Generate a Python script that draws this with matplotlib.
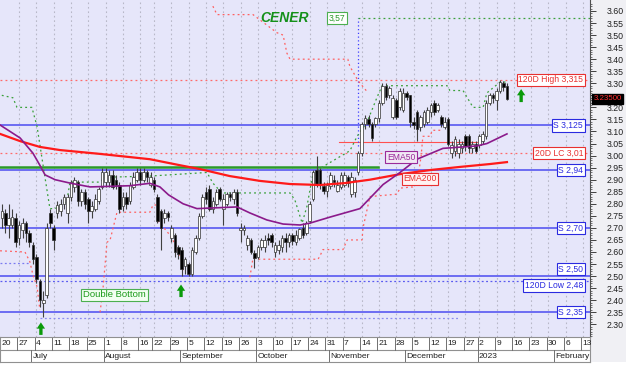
import numpy as np
import pandas as pd
import matplotlib
matplotlib.use("Agg")
import matplotlib.pyplot as plt
from matplotlib.patches import Rectangle
import matplotlib.transforms as mtrans

plt.rcParams['font.family'] = ['Liberation Sans', 'DejaVu Sans']

# trading calendar (BME, Aug 15 and Dec 26 closed)
days = pd.bdate_range("2022-06-20", "2023-02-17")
days = days[~days.isin(pd.to_datetime(["2022-08-15", "2022-12-26"]))]

# daily candles, 2022-06-20 .. 2023-01-12
opens = [2.74, 2.76, 2.71, 2.71, 2.74, 2.66, 2.69, 2.72, 2.68, 2.63,
         2.58, 2.48, 2.39, 2.42, 2.76, 2.70, 2.76, 2.77, 2.80, 2.76,
         2.83, 2.87, 2.89, 2.81, 2.85, 2.82, 2.77, 2.78, 2.81, 2.87,
         2.89, 2.89, 2.92, 2.90, 2.88, 2.79, 2.83, 2.81, 2.87, 2.90,
         2.93, 2.90, 2.93, 2.88, 2.90, 2.83, 2.77, 2.74, 2.76, 2.66,
         2.67, 2.62, 2.61, 2.54, 2.55, 2.51, 2.60, 2.66, 2.75, 2.85,
         2.86, 2.78, 2.80, 2.86, 2.78, 2.80, 2.84, 2.82, 2.85, 2.69,
         2.69, 2.63, 2.65, 2.595, 2.58, 2.62, 2.62, 2.66, 2.67, 2.60,
         2.61, 2.62, 2.66, 2.64, 2.67, 2.64, 2.66, 2.70, 2.68, 2.73,
         2.82, 2.94, 2.94, 2.875, 2.855, 2.875, 2.90, 2.855, 2.87, 2.88,
         2.91, 2.84, 2.85, 2.93, 3.01, 3.13, 3.15, 3.13, 3.13, 3.155,
         3.22, 3.29, 3.25, 3.16, 3.23, 3.20, 3.19, 3.26, 3.25, 3.14,
         3.18, 3.12, 3.13, 3.14, 3.18, 3.22, 3.19, 3.16, 3.12, 3.15,
         3.01, 3.02, 3.01, 3.03, 3.08, 3.08, 3.03, 3.05, 3.045, 3.06,
         3.08, 3.22, 3.25, 3.23, 3.27, 3.30, 3.29]
closes = [2.77, 2.71, 2.74, 2.745, 2.64, 2.71, 2.72, 2.68, 2.64, 2.57,
          2.49, 2.40, 2.40, 2.70, 2.72, 2.65, 2.795, 2.80, 2.83, 2.83,
          2.89, 2.90, 2.81, 2.85, 2.80, 2.77, 2.79, 2.82, 2.86, 2.93,
          2.93, 2.92, 2.87, 2.88, 2.78, 2.83, 2.80, 2.88, 2.91, 2.93,
          2.90, 2.93, 2.91, 2.91, 2.86, 2.73, 2.70, 2.76, 2.745, 2.70,
          2.60, 2.59, 2.53, 2.57, 2.51, 2.61, 2.66, 2.75, 2.83, 2.82,
          2.78, 2.81, 2.85, 2.82, 2.82, 2.84, 2.83, 2.85, 2.76, 2.70,
          2.70, 2.66, 2.60, 2.575, 2.62, 2.65, 2.65, 2.65, 2.64, 2.63,
          2.63, 2.66, 2.64, 2.67, 2.645, 2.67, 2.695, 2.67, 2.72, 2.80,
          2.93, 2.88, 2.88, 2.855, 2.88, 2.92, 2.89, 2.88, 2.92, 2.92,
          2.885, 2.91, 2.90, 3.01, 3.13, 3.155, 3.13, 3.075, 3.155, 3.22,
          3.29, 3.245, 3.28, 3.24, 3.16, 3.27, 3.26, 3.245, 3.14, 3.125,
          3.11, 3.16, 3.18, 3.19, 3.21, 3.18, 3.21, 3.13, 3.14, 3.05,
          3.045, 3.07, 3.05, 3.05, 3.04, 3.03, 3.05, 3.02, 3.08, 3.09,
          3.22, 3.25, 3.24, 3.27, 3.305, 3.285, 3.235]
highs = [2.80, 2.78, 2.80, 2.78, 2.76, 2.73, 2.74, 2.73, 2.69, 2.64,
         2.59, 2.49, 2.44, 2.72, 2.78, 2.71, 2.81, 2.82, 2.84, 2.84,
         2.90, 2.91, 2.90, 2.86, 2.86, 2.83, 2.81, 2.84, 2.87, 2.95,
         2.95, 2.94, 2.94, 2.92, 2.89, 2.85, 2.85, 2.89, 2.93, 2.95,
         2.95, 2.95, 2.94, 2.93, 2.91, 2.84, 2.78, 2.78, 2.77, 2.71,
         2.68, 2.63, 2.62, 2.58, 2.56, 2.62, 2.67, 2.76, 2.84, 2.87,
         2.88, 2.83, 2.86, 2.87, 2.84, 2.85, 2.85, 2.86, 2.86, 2.72,
         2.71, 2.67, 2.66, 2.61, 2.63, 2.66, 2.67, 2.68, 2.68, 2.64,
         2.65, 2.67, 2.68, 2.68, 2.68, 2.69, 2.70, 2.72, 2.73, 2.81,
         2.94, 3.00, 2.95, 2.89, 2.89, 2.93, 2.92, 2.90, 2.93, 2.93,
         2.92, 2.93, 2.91, 3.02, 3.14, 3.17, 3.17, 3.14, 3.16, 3.23,
         3.30, 3.30, 3.29, 3.25, 3.24, 3.28, 3.28, 3.27, 3.25, 3.16,
         3.19, 3.17, 3.19, 3.20, 3.22, 3.23, 3.22, 3.17, 3.16, 3.16,
         3.06, 3.08, 3.07, 3.06, 3.09, 3.09, 3.06, 3.06, 3.09, 3.10,
         3.23, 3.26, 3.26, 3.28, 3.315, 3.31, 3.30]
lows = [2.70, 2.68, 2.66, 2.70, 2.62, 2.63, 2.66, 2.64, 2.62, 2.55,
        2.47, 2.37, 2.33, 2.41, 2.70, 2.61, 2.74, 2.75, 2.78, 2.72,
        2.81, 2.85, 2.79, 2.79, 2.78, 2.72, 2.74, 2.77, 2.80, 2.86,
        2.87, 2.87, 2.86, 2.86, 2.76, 2.77, 2.78, 2.80, 2.86, 2.89,
        2.88, 2.89, 2.89, 2.87, 2.85, 2.72, 2.61, 2.72, 2.73, 2.64,
        2.58, 2.57, 2.50, 2.51, 2.50, 2.50, 2.59, 2.65, 2.74, 2.80,
        2.77, 2.76, 2.79, 2.81, 2.71, 2.79, 2.81, 2.80, 2.75, 2.64,
        2.67, 2.61, 2.59, 2.535, 2.57, 2.61, 2.60, 2.63, 2.62, 2.58,
        2.59, 2.60, 2.60, 2.62, 2.63, 2.63, 2.65, 2.66, 2.67, 2.72,
        2.81, 2.87, 2.86, 2.84, 2.83, 2.86, 2.87, 2.85, 2.86, 2.87,
        2.87, 2.83, 2.83, 2.92, 3.00, 3.11, 3.12, 3.06, 3.12, 3.14,
        3.21, 3.23, 3.24, 3.15, 3.15, 3.19, 3.18, 3.23, 3.12, 3.11,
        3.06, 3.10, 3.12, 3.13, 3.16, 3.17, 3.18, 3.12, 3.11, 3.04,
        2.99, 3.00, 2.99, 3.01, 3.02, 3.01, 3.01, 3.01, 3.03, 3.05,
        3.07, 3.21, 3.22, 3.19, 3.26, 3.27, 3.23]

# moving averages (trading-day index, value)
ema200_day = [-0.5, 5.3, 11, 16.8, 28.4, 42.8, 51.5, 57.3, 65.9, 74.6, 83.3, 92, 99.2, 106.4, 115.1, 123.8, 132.4, 141.1, 146]
ema200_val = [3.09, 3.06, 3.036, 3.023, 3.007, 2.985, 2.96, 2.944, 2.915, 2.895, 2.882, 2.878, 2.886, 2.90, 2.923, 2.94, 2.953, 2.965, 2.973]
ema50_day = [-0.5, 5.3, 9, 11, 12.5, 15.4, 19.7, 25.5, 37, 42.8, 45.7, 48.2, 52.4, 56.4, 68, 71.7, 76.6, 81.3, 86.2, 89.1, 94.9, 103.5, 110.2, 115.1, 120, 127.5, 137.3, 140.2, 146]
ema50_val = [3.127, 3.073, 3.01, 2.96, 2.92, 2.90, 2.886, 2.87, 2.875, 2.885, 2.87, 2.837, 2.80, 2.78, 2.787, 2.762, 2.733, 2.716, 2.712, 2.72, 2.745, 2.78, 2.88, 2.93, 2.985, 3.03, 3.04, 3.05, 3.09]

# trailing stops
gstop_day = [0, 3.2, 4.4, 8.7, 10.2, 11.6, 13.9, 15.4, 18.8, 19.7, 28.4, 29.8, 42.8, 59.3, 61, 63.6, 83.3, 84.7, 86.8, 88.2, 90, 100.6, 102.7, 105.6, 108.4, 109.9, 128.7, 129.5, 133.3, 136.2, 139.1, 140.2, 144, 146.3]
gstop_val = [3.25, 3.24, 3.20, 3.20, 3.12, 2.99, 2.78, 2.78, 2.81, 2.89, 2.89, 2.91, 2.915, 2.93, 2.886, 2.845, 2.845, 2.816, 2.72, 2.79, 2.93, 3.02, 3.08, 3.14, 3.24, 3.29, 3.29, 3.27, 3.27, 3.20, 3.20, 3.26, 3.305, 3.305]
rstop_days = [[-0.5, 6.7, 8.1, 9.0, 10.2, 11.0],
              [28.4, 29.2, 30.4, 31.3, 33.3, 42.8, 43.7, 44.6],
              [45.1, 48.6, 50.6, 52.1, 52.4],
              [61, 62.2, 72.6, 79.5, 81.3, 82.4, 83.3, 100, 100.6, 103, 105.6],
              [71.7, 72.6, 74.6, 91.4, 92, 92.8, 98.6, 99.8, 104.1, 104.4, 106.4, 114.2, 115.1, 118.8, 120, 121.2, 121.7, 123.8, 124.4, 127]]
rstop_vals = [[2.605, 2.60, 2.56, 2.505, 2.455, 2.36],
              [2.35, 2.44, 2.64, 2.65, 2.765, 2.765, 2.795, 2.795],
              [2.73, 2.67, 2.62, 2.56, 2.515],
              [3.62, 3.585, 3.585, 3.51, 3.50, 3.425, 3.40, 3.40, 3.37, 3.31, 3.265],
              [2.495, 2.575, 2.57, 2.57, 2.585, 2.61, 2.61, 2.65, 2.65, 2.70, 2.83, 2.84, 2.865, 2.87, 2.88, 3.0, 3.08, 3.08, 3.105, 3.105]]

support_levels = [3.125, 2.94, 2.70, 2.50, 2.35]
support_labels = ["S 3,125", "S 2,94", "S 2,70", "S 2,50", "S 2,35"]
high120 = 3.315
low120 = 2.48
lc20 = 3.01
target = 3.57
last_price = 3.235

ymin, ymax = 2.2473, 3.6456
xmin, xmax = -0.52, 170.0

fig = plt.figure(figsize=(6.3, 3.68), dpi=100)
fig.patch.set_facecolor('white')
fig.patches.append(Rectangle((590/630, 6/368), 36/630, 362/368, transform=fig.transFigure,
                             facecolor='#f0f0f4', edgecolor='none', zorder=-5))
ax = fig.add_axes([0, 31/368, 590/630, 337/368])
ax.set_facecolor('#e6e6fa')
ax.set_xlim(xmin, xmax)
ax.set_ylim(ymin, ymax)

n = len(closes)
idx = np.arange(n)
wk = days.to_period('W')
week_pos = [i for i in range(len(days)) if (i == 0 or wk[i] != wk[i - 1]) and i <= xmax]
month_pos = [i for i in range(1, len(days)) if days[i].month != days[i - 1].month and i <= xmax]

# weekly grid
ax.vlines(week_pos[1:], ymin, ymax, colors='#b8b8c8', linestyles=(0, (1.5, 2.5)), lw=0.8, zorder=0)

# horizontal levels
for lv in support_levels:
    ax.axhline(lv, color='#4b4bf0', lw=1.1, zorder=1)
ax.plot([xmin, 108.7], [2.951, 2.951], color='#2a9a2a', lw=1.8, zorder=1.5)
ax.axhline(high120, color='#ff6a6a', lw=0.9, ls=(0, (1.5, 2.5)), zorder=1)
ax.axhline(lc20, color='#ff6a6a', lw=0.9, ls=(0, (1.5, 2.5)), zorder=1)
ax.axhline(low120, color='#5a5af0', lw=0.9, ls=(0, (1.5, 2)), zorder=1)
ax.plot([xmin, 8.2], [2.555, 2.555], color='#7a7af0', lw=0.9, ls=(0, (1.5, 2)), zorder=1)
ax.plot([11, 132.4], [2.325, 2.325], color='#8a8af0', lw=0.9, ls=(0, (1.5, 2)), zorder=1)
ax.plot([97.5, 137.3], [3.057, 3.057], color='#ff5050', lw=0.8, zorder=1)
ax.plot([103, 103], [3.04, target], color='#4040ff', lw=0.9, ls=(0, (1, 2)), zorder=1)
ax.plot([103, xmax], [target, target], color='#3aa03a', lw=0.9, ls=(0, (1.5, 2.5)), zorder=1)

# stops
ax.plot(gstop_day, gstop_val, color='#3aa03a', lw=0.9, ls=(0, (1.5, 2.5)), zorder=2)
for dd, vv in zip(rstop_days, rstop_vals):
    ax.plot(dd, vv, color='#ff6060', lw=0.9, ls=(0, (1.5, 2.5)), zorder=2)

# candles
o = np.array(opens)
c = np.array(closes)
ax.vlines(idx, lows, highs, colors='#404040', lw=0.8, zorder=3)
body_lo = np.minimum(o, c)
body_h = np.maximum(np.abs(c - o), 0.004)
fcols = ['white' if cc >= oo else 'black' for oo, cc in zip(o, c)]
ax.bar(idx, body_h, bottom=body_lo, width=0.75, color=fcols, edgecolor='#303030', lw=0.5, zorder=3.5)

# EMAs
ax.plot(ema200_day, ema200_val, color='#ff1a1a', lw=1.6, zorder=4)
ax.plot(ema50_day, ema50_val, color='#8b1a8b', lw=1.2, zorder=4)

# labels on the right
def tag(y, text, col, fc='white'):
    ax.text(168, y, text, color=col, fontsize=6.2, ha='right', va='center', zorder=6,
            bbox=dict(boxstyle='square,pad=0.18', fc=fc, ec=col, lw=0.8))

tag(high120, "120D High 3,315", '#e83030')
tag(lc20, "20D LC 3,01", '#e83030')
for lv, lb in zip(support_levels, support_labels):
    yy = lv + 0.03 if lv == 2.50 else lv
    tag(yy, lb, '#2a2ae0')
tag(2.461, "120D Low 2,48", '#2a2ae0')

ax.text(96.9, target, "3,57", color='#2a9a2a', fontsize=6.2, ha='center', va='center', zorder=6,
        bbox=dict(boxstyle='square,pad=0.18', fc='white', ec='#4caf50', lw=0.8))
ax.text(81.8, 3.57, "CENER", color='#14901a', fontsize=10, fontweight='bold', style='italic',
        ha='center', va='center', zorder=6)
ax.text(32.6, 2.4216, "Double Bottom", color='#1a9a1a', fontsize=6.8, ha='center', va='center', zorder=6,
        bbox=dict(boxstyle='square,pad=0.2', fc='#f2fff2', ec='#4caf50', lw=0.8))
ax.text(115.4, 2.994, "EMA50", color='#9a2a9a', fontsize=6.2, ha='center', va='center', zorder=6,
        bbox=dict(boxstyle='square,pad=0.18', fc='#f0e8f4', ec='#9a2a9a', lw=0.8))
ax.text(120.9, 2.903, "EMA200", color='#e83030', fontsize=6.2, ha='center', va='center', zorder=6,
        bbox=dict(boxstyle='square,pad=0.18', fc='#fff2f2', ec='#e83030', lw=0.8))

# buy arrows
for xa, y0, y1 in [(11.3, 2.256, 2.308), (51.8, 2.413, 2.465), (150.1, 3.222, 3.276)]:
    ax.annotate('', xy=(xa, y1), xytext=(xa, y0), zorder=6,
                arrowprops=dict(arrowstyle='simple,head_width=0.6,head_length=0.45,tail_width=0.24',
                                color='#0a9a0a', lw=0, shrinkA=0, shrinkB=0))

# right axis
ax.yaxis.tick_right()
yt = np.arange(2.30, 3.601, 0.05)
ax.set_yticks(yt)
ax.set_yticklabels(["" if abs(v - 3.25) < 1e-6 else "%.2f" % v for v in yt], fontsize=6.3, color='#202020')
ax.set_yticks(np.arange(2.25, 3.64, 0.01), minor=True)
ax.tick_params(axis='y', which='major', length=4, width=0.7, color='#404040', pad=8)
ax.tick_params(axis='y', which='minor', length=1.5, width=0.5, color='#404040')
ax.set_xticks([])
for s in ['top', 'left', 'bottom']:
    ax.spines[s].set_visible(False)
ax.spines['right'].set_color('#505050')
ax.spines['right'].set_linewidth(0.8)

trans = mtrans.blended_transform_factory(ax.transAxes, ax.transData)
ax.text(1.006, last_price, "%.5f" % last_price, transform=trans, color='#ff3030', fontsize=5.7,
        ha='left', va='center', zorder=7, bbox=dict(boxstyle='square,pad=0.15', fc='black', ec='black'))

# date strip
dax = fig.add_axes([0, 6/368, 590/630, 25/368])
dax.set_xlim(xmin, xmax)
dax.set_ylim(0, 2)
dax.set_facecolor('white')
dax.set_xticks([])
dax.set_yticks([])
for s in dax.spines.values():
    s.set_color('#909090')
    s.set_linewidth(0.8)
dax.axhline(1, color='#909090', lw=0.8)
for p in week_pos:
    dax.plot([p - 0.5, p - 0.5], [1, 2], color='#707070', lw=0.7)
    dax.text(p - 0.1, 1.45, str(days[p].day), fontsize=6.1, ha='left', va='center', color='#202020')
month_names = {7: 'July', 8: 'August', 9: 'September', 10: 'October', 11: 'November',
               12: 'December', 1: '2023', 2: 'February'}
for p in month_pos:
    dax.plot([p - 0.5, p - 0.5], [0, 1], color='#707070', lw=0.7)
    dax.text(p - 0.1, 0.45, month_names[days[p].month], fontsize=6.1, ha='left', va='center', color='#202020')

fig.savefig('out.png', dpi=100)
